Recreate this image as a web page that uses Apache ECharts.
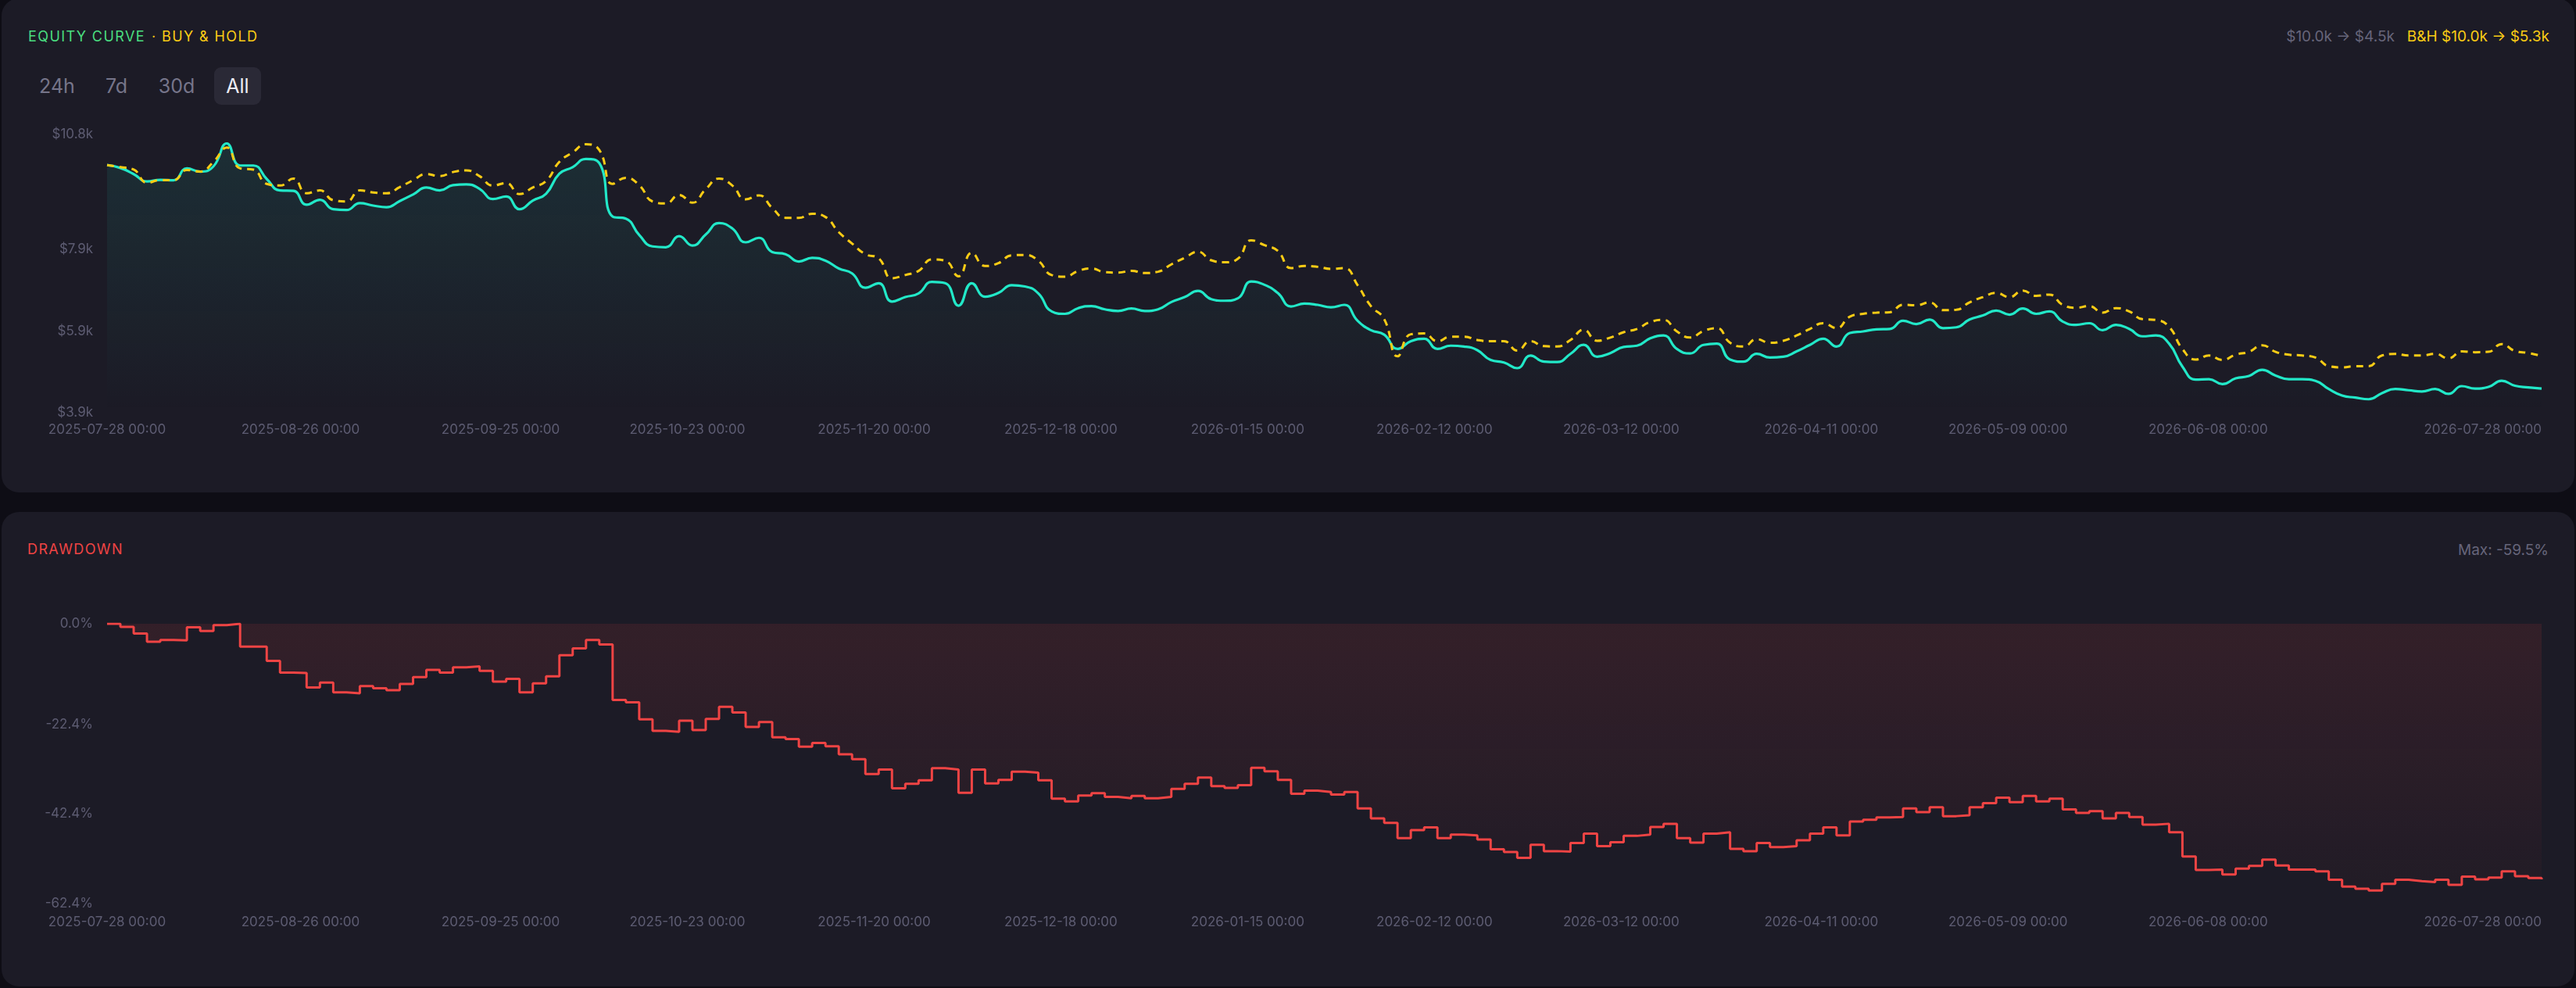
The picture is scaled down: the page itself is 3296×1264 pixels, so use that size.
<!DOCTYPE html>
<html>
<head>
<meta charset="utf-8">
<script src="https://cdn.jsdelivr.net/npm/echarts@6/dist/echarts.min.js"></script>
<style>
html,body{margin:0;padding:0;background:#0e0d15;width:3296px;height:1264px;overflow:hidden;font-family:Inter,'Noto Sans',sans-serif;}
.card{position:absolute;left:2px;width:3292px;background:#1c1b26;border-radius:22px;}
#c1{top:-2px;height:632px;}
#c2{top:655px;height:607px;}
.t{position:absolute;white-space:nowrap;line-height:24px;height:24px;}
.ttl{font-size:18px;letter-spacing:1.4px;font-weight:400;}
.btn{position:absolute;top:86px;width:60px;height:48px;line-height:48px;text-align:center;font-size:25px;color:#76758a;border-radius:9px;}
.btn.on{background:#2a2936;color:#ececf4;}
#chart{position:absolute;left:0;top:0;width:3296px;height:1264px;}
</style>
</head>
<body>
<div class="card" id="c1"></div>
<div class="card" id="c2"></div>
<div class="t ttl" style="left:36px;top:35px;color:#4ade80;">EQUITY CURVE</div>
<div class="t ttl" style="left:194px;top:35px;color:#facc15;">· BUY &amp; HOLD</div>
<div class="t" style="right:34px;top:35px;font-size:19px;"><span style="color:#66657a;">$10.0k → $4.5k</span><span style="color:#facc15;margin-left:16px;">B&amp;H $10.0k → $5.3k</span></div>
<div class="btn" style="left:43px;">24h</div>
<div class="btn" style="left:119px;">7d</div>
<div class="btn" style="left:196px;">30d</div>
<div class="btn on" style="left:274px;">All</div>
<div class="t ttl" style="left:35px;top:691px;color:#ef4444;">DRAWDOWN</div>
<div class="t" style="right:35px;top:692px;font-size:19px;color:#66657a;">Max: -59.5%</div>
<div id="chart"></div>
<script>
// Strategy equity (k$), one value per ~2 days
const equity = [
10.00,9.93,9.78,9.60,9.64,9.63,9.92,9.84,9.97,10.53,
9.99,9.99,9.66,9.38,9.37,9.03,9.15,8.92,8.90,9.07,
9.01,8.97,9.12,9.28,9.45,9.38,9.51,9.53,9.42,9.17,
9.23,8.92,9.13,9.30,9.79,9.95,10.15,10.05,8.74,8.69,
8.29,8.01,7.99,8.26,8.03,8.30,8.58,8.45,8.11,8.22,
7.87,7.82,7.64,7.73,7.66,7.47,7.35,7.00,7.11,6.66,
6.77,6.86,7.14,7.11,6.56,7.11,6.78,6.87,7.06,7.03,
6.86,6.42,6.36,6.50,6.55,6.47,6.43,6.49,6.43,6.47,
6.65,6.77,6.92,6.72,6.68,6.74,7.15,7.07,6.87,6.54,
6.61,6.58,6.52,6.58,6.19,5.96,5.85,5.50,5.69,5.75,
5.50,5.58,5.56,5.47,5.23,5.17,5.03,5.34,5.19,5.18,
5.38,5.60,5.31,5.40,5.55,5.58,5.76,5.83,5.50,5.39,
5.60,5.63,5.24,5.19,5.38,5.29,5.31,5.44,5.60,5.75,
5.56,5.89,5.93,5.98,5.99,6.19,6.11,6.22,6.01,6.03,
6.22,6.32,6.44,6.34,6.49,6.36,6.42,6.17,6.09,6.13,
5.96,6.09,5.99,5.81,5.83,5.63,5.07,4.75,4.76,4.64,
4.78,4.84,4.99,4.85,4.76,4.76,4.72,4.52,4.36,4.31,
4.27,4.42,4.52,4.49,4.46,4.52,4.40,4.59,4.53,4.57,
4.72,4.60,4.56,4.53
];
// Buy & hold (k$)
const buyHold = [
10.00,9.95,9.89,9.57,9.63,9.63,9.88,9.84,10.08,10.43,
9.92,9.89,9.54,9.50,9.67,9.31,9.38,9.14,9.11,9.38,
9.33,9.31,9.46,9.63,9.78,9.73,9.83,9.87,9.73,9.50,
9.56,9.29,9.45,9.61,10.08,10.31,10.51,10.37,9.54,9.69,
9.51,9.11,9.06,9.27,9.08,9.41,9.67,9.50,9.16,9.26,
8.95,8.71,8.71,8.81,8.73,8.36,8.08,7.82,7.72,7.23,
7.31,7.41,7.69,7.66,7.28,7.85,7.53,7.60,7.79,7.80,
7.66,7.31,7.27,7.41,7.47,7.38,7.37,7.41,7.36,7.39,
7.57,7.73,7.88,7.67,7.62,7.71,8.16,8.04,7.90,7.48,
7.53,7.51,7.46,7.48,7.06,6.55,6.23,5.32,5.86,5.88,
5.69,5.80,5.80,5.72,5.69,5.69,5.46,5.69,5.57,5.56,
5.72,5.97,5.70,5.78,5.91,5.99,6.16,6.21,5.93,5.78,
5.94,6.01,5.65,5.56,5.74,5.65,5.70,5.83,5.99,6.13,
6.01,6.29,6.36,6.39,6.40,6.58,6.57,6.64,6.45,6.46,
6.64,6.77,6.87,6.77,6.93,6.80,6.83,6.58,6.51,6.55,
6.39,6.50,6.42,6.23,6.21,6.04,5.50,5.24,5.34,5.23,
5.36,5.43,5.59,5.43,5.36,5.34,5.29,5.08,5.05,5.08,
5.08,5.34,5.38,5.34,5.34,5.38,5.27,5.44,5.42,5.43,
5.62,5.45,5.40,5.33
];
// Drawdown (%)
const drawdown = [
0,-0.7,-2.2,-4.0,-3.6,-3.7,-0.8,-1.6,-0.3,0,
-5.1,-5.1,-8.3,-10.9,-11.0,-14.2,-13.1,-15.3,-15.5,-13.9,
-14.4,-14.8,-13.4,-11.9,-10.3,-10.9,-9.7,-9.5,-10.5,-12.9,
-12.3,-15.3,-13.3,-11.7,-7.0,-5.5,-3.6,-4.6,-17.0,-17.5,
-21.3,-23.9,-24.1,-21.6,-23.7,-21.2,-18.5,-19.8,-23.0,-21.9,
-25.3,-25.7,-27.4,-26.6,-27.3,-29.1,-30.2,-33.5,-32.5,-36.7,
-35.7,-34.9,-32.2,-32.5,-37.7,-32.5,-35.6,-34.8,-33.0,-33.2,
-34.9,-39.0,-39.6,-38.3,-37.8,-38.6,-38.9,-38.4,-38.9,-38.6,
-36.8,-35.7,-34.3,-36.2,-36.6,-36.0,-32.1,-32.9,-34.8,-37.9,
-37.2,-37.5,-38.1,-37.5,-41.2,-43.4,-44.4,-47.8,-46.0,-45.4,
-47.8,-47.0,-47.2,-48.1,-50.3,-50.9,-52.2,-49.3,-50.7,-50.8,
-48.9,-46.8,-49.6,-48.7,-47.3,-47.0,-45.3,-44.6,-47.8,-48.8,
-46.8,-46.5,-50.2,-50.7,-48.9,-49.8,-49.6,-48.3,-46.8,-45.4,
-47.2,-44.1,-43.7,-43.2,-43.1,-41.2,-42.0,-40.9,-42.9,-42.7,
-40.9,-40.0,-38.8,-39.8,-38.4,-39.6,-39.0,-41.4,-42.2,-41.8,
-43.4,-42.2,-43.1,-44.8,-44.6,-46.5,-51.9,-54.9,-54.8,-55.9,
-54.6,-54.0,-52.6,-53.9,-54.8,-54.8,-55.2,-57.1,-58.6,-59.1,
-59.5,-58.0,-57.1,-57.4,-57.6,-57.1,-58.2,-56.4,-57.0,-56.6,
-55.2,-56.3,-56.7,-57.0
];
const startDate = '2025-07-28';
const endDate = '2026-07-28';
const xTickDates = ['2025-07-28','2025-08-26','2025-09-25','2025-10-23','2025-11-20','2025-12-18','2026-01-15','2026-02-12','2026-03-12','2026-04-11','2026-05-09','2026-06-08','2026-07-28'];
const equityTicks = [3.94, 5.94, 7.94, 10.75];
const drawdownTicks = [-62.4, -42.4, -22.4, 0];

const toTs = s => Date.parse(s + 'T00:00:00Z');
const t0 = toTs(startDate), t1 = toTs(endDate);
const N = equity.length;
const times = equity.map((_, i) => t0 + i * (t1 - t0) / (N - 1));
const pad = n => String(n).padStart(2, '0');
const fmtDate = v => { const d = new Date(Math.round(v)); return d.getUTCFullYear() + '-' + pad(d.getUTCMonth() + 1) + '-' + pad(d.getUTCDate()) + ' ' + pad(d.getUTCHours()) + ':' + pad(d.getUTCMinutes()); };

const labelColor = '#5d5c72';
const FONT = 'Inter';
function xAxis(grid, margin) {
  return {
    type: 'value', gridIndex: grid, min: t0, max: t1, scale: true,
    axisLine: { show: false }, axisTick: { show: false }, splitLine: { show: false },
    axisLabel: { customValues: xTickDates.map(toTs), formatter: fmtDate, color: labelColor, fontSize: 17, fontFamily: FONT, margin: margin, alignMaxLabel: 'right', hideOverlap: false }
  };
}
const chart = echarts.init(document.getElementById('chart'), null, { renderer: 'canvas' });
chart.setOption({
  backgroundColor: 'transparent',
  animation: false,
  grid: [
    { left: 137, right: 44, top: 172, bottom: 736 },
    { left: 137, right: 44, top: 798, bottom: 108 }
  ],
  xAxis: [xAxis(0, 13), xAxis(1, 15)],
  yAxis: [
    { type: 'value', gridIndex: 0, min: 3.94, max: 10.75,
      axisLine: { show: false }, axisTick: { show: false }, splitLine: { show: false },
      axisLabel: { customValues: equityTicks, formatter: v => '$' + v.toFixed(1) + 'k', color: labelColor, fontSize: 17, fontFamily: FONT, margin: 18 } },
    { type: 'value', gridIndex: 1, min: -62.4, max: 0,
      axisLine: { show: false }, axisTick: { show: false }, splitLine: { show: false },
      axisLabel: { customValues: drawdownTicks, formatter: v => v.toFixed(1) + '%', color: labelColor, fontSize: 17, fontFamily: FONT, margin: 18 } }
  ],
  series: [
    { name: 'Equity', type: 'line', xAxisIndex: 0, yAxisIndex: 0, data: times.map((t, i) => [t, equity[i]]),
      smooth: 0.5, symbol: 'none', lineStyle: { color: '#22e8c8', width: 3.2 },
      areaStyle: { color: new echarts.graphic.LinearGradient(0, 0, 0, 1, [{ offset: 0, color: 'rgba(34,230,198,0.14)' }, { offset: 1, color: 'rgba(34,230,198,0.0)' }]) } },
    { name: 'Buy & Hold', type: 'line', xAxisIndex: 0, yAxisIndex: 0, data: times.map((t, i) => [t, buyHold[i]]),
      smooth: 0.5, symbol: 'none', lineStyle: { color: '#facc15', width: 3, type: [9, 7] } },
    { name: 'Drawdown', type: 'line', xAxisIndex: 1, yAxisIndex: 1, data: times.map((t, i) => [t, drawdown[i]]),
      step: 'end', symbol: 'none', lineStyle: { color: '#ef4444', width: 3 },
      areaStyle: { color: new echarts.graphic.LinearGradient(0, 0, 0, 1, [{ offset: 0, color: 'rgba(239,68,68,0.16)' }, { offset: 1, color: 'rgba(239,68,68,0.04)' }]) } }
  ]
});
</script>
</body>
</html>
